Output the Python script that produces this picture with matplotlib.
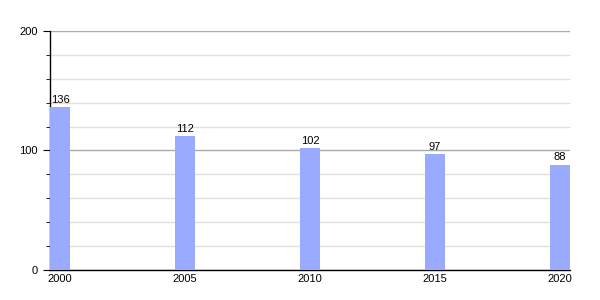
import matplotlib
matplotlib.use('Agg')
import matplotlib.pyplot as plt
from matplotlib.ticker import MultipleLocator

years = [2000, 2005, 2010, 2015, 2020]
values = [136, 112, 102, 97, 88]

plt.rcParams['font.family'] = ['Liberation Sans', 'DejaVu Sans']

fig = plt.figure(figsize=(6, 3), dpi=100)
ax = fig.add_axes([0.0833, 0.1, 0.8667, 0.7967])

bars = ax.bar(years, values, width=0.8, color='#99aaff', zorder=3)
for b, v in zip(bars, values):
    ax.text(b.get_x() + b.get_width() / 2, v + 2, str(v), ha='center', va='bottom', fontsize=8, zorder=4)

ax.set_xlim(1999.6, 2020.4)
ax.set_ylim(0, 200)
ax.set_xticks(years)
ax.set_yticks([0, 100, 200])
ax.yaxis.set_minor_locator(MultipleLocator(20))
ax.grid(axis='y', which='major', color='#aaaaaa', linewidth=1, zorder=1)
ax.grid(axis='y', which='minor', color='#e0e0e0', linewidth=1, zorder=1)

for s in ['top', 'right']:
    ax.spines[s].set_visible(False)
ax.spines['left'].set_linewidth(1)
ax.spines['bottom'].set_linewidth(1)
ax.tick_params(axis='x', length=0, labelsize=8, pad=3)
ax.tick_params(axis='y', which='major', length=5, labelsize=8, pad=4)
ax.tick_params(axis='y', which='minor', length=3)

fig.savefig('out.png', dpi=100, facecolor='white')
